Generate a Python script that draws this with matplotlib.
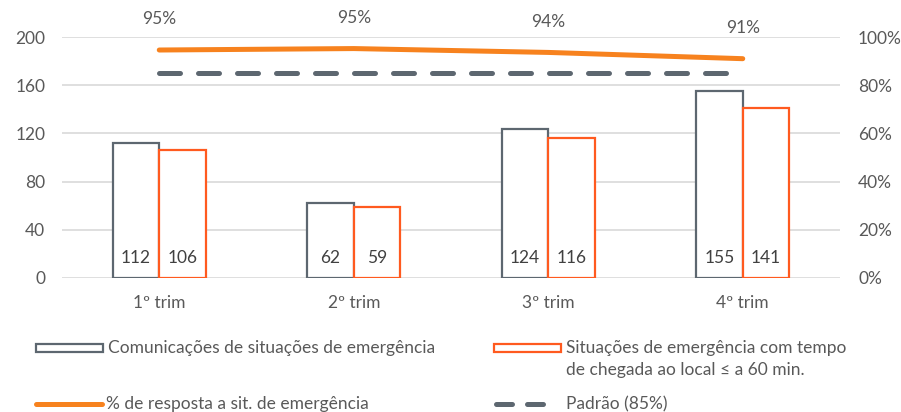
import matplotlib
matplotlib.use("Agg")
import matplotlib.pyplot as plt
import numpy as np
from matplotlib.patches import Rectangle
from matplotlib.lines import Line2D

plt.rcParams['font.family'] = ['Lato', 'DejaVu Sans']

categories = ["1º trim", "2º trim", "3º trim", "4º trim"]
comunicacoes = [112, 62, 124, 155]
situacoes_60 = [106, 59, 116, 141]
pct_resposta = [94.6, 95.2, 93.6, 91.0]
padrao = [85, 85, 85, 85]
left_ticks = [0, 40, 80, 120, 160, 200]
right_ticks = [0, 20, 40, 60, 80, 100]

TXT = "#595959"
GREY = "#5d6770"
ORANGE_BAR = "#ff5a1f"
ORANGE_LINE = "#f7821e"
GRID = "#d9d9d9"
FS = 12.5

fig = plt.figure(figsize=(9.01, 4.12), dpi=100)
ax = fig.add_axes([62/901, 1-278/412, (840-62)/901, (278-37)/412])
ax2 = ax.twinx()

x = np.arange(len(categories))
w = 0.24
ax.bar(x - w/2, comunicacoes, w, facecolor="white", edgecolor=GREY, linewidth=1.6, zorder=3)
ax.bar(x + w/2, situacoes_60, w, facecolor="white", edgecolor=ORANGE_BAR, linewidth=1.6, zorder=3)
for xi, v in zip(x - w/2, comunicacoes):
    ax.text(xi, 17, str(v), ha="center", va="center", fontsize=FS, color="#404040", zorder=4)
for xi, v in zip(x + w/2, situacoes_60):
    ax.text(xi, 17, str(v), ha="center", va="center", fontsize=FS, color="#404040", zorder=4)

ax.set_xlim(-0.5, len(categories) - 0.5)
ax.set_ylim(0, 200)
ax.set_yticks(left_ticks)
ax.set_xticks(x)
ax.set_xticklabels(categories)
ax.grid(axis="y", color=GRID, linewidth=1.2, zorder=0)
ax.set_axisbelow(True)
for s in ax.spines.values():
    s.set_visible(False)
ax.tick_params(axis="both", length=0, labelsize=FS, colors=TXT)
ax.tick_params(axis="y", pad=12)
ax.tick_params(axis="x", pad=12)

ax2.plot(x, padrao, color=GREY, linewidth=3.6, dashes=(4.2, 3.6), solid_capstyle="round",
         dash_capstyle="round", zorder=3)
ax2.plot(x, pct_resposta, color=ORANGE_LINE, linewidth=3.6, solid_capstyle="round", zorder=4)
for xi, v in zip(x, pct_resposta):
    ax2.annotate(f"{v:.0f}%", (xi, v), xytext=(0, 22), textcoords="offset points",
                 ha="center", va="center", fontsize=FS, color=TXT, annotation_clip=False)
ax2.set_ylim(0, 100)
ax2.set_yticks(right_ticks)
ax2.set_yticklabels([f"{t}%" for t in right_ticks])
for s in ax2.spines.values():
    s.set_visible(False)
ax2.tick_params(axis="y", length=0, labelsize=FS, colors=TXT, pad=13)

# legend (manual layout)
def fx(px):
    return px / 901
def fy(py):
    return 1 - py / 412

fig.add_artist(Rectangle((fx(36), fy(352)), fx(103) - fx(36), fy(344) - fy(352),
                         transform=fig.transFigure, facecolor="white", edgecolor=GREY, linewidth=1.6))
fig.text(fx(108), fy(348), "Comunicações de situações de emergência", ha="left", va="center",
         fontsize=FS, color=TXT)
fig.add_artist(Rectangle((fx(494), fy(352)), fx(561) - fx(494), fy(344) - fy(352),
                         transform=fig.transFigure, facecolor="white", edgecolor=ORANGE_BAR, linewidth=1.6))
fig.text(fx(566), fy(348), "Situações de emergência com tempo", ha="left", va="center",
         fontsize=FS, color=TXT)
fig.text(fx(566), fy(370), "de chegada ao local ≤ a 60 min.", ha="left", va="center",
         fontsize=FS, color=TXT)
fig.add_artist(Line2D([fx(36), fx(102)], [fy(404), fy(404)], transform=fig.transFigure,
                      color=ORANGE_LINE, linewidth=3.6, solid_capstyle="round"))
fig.text(fx(106), fy(404), "% de resposta a sit. de emergência", ha="left", va="center",
         fontsize=FS, color=TXT)
fig.add_artist(Line2D([fx(496), fx(557)], [fy(404), fy(404)], transform=fig.transFigure,
                      color=GREY, linewidth=3.6, dashes=(3.2, 3.0), dash_capstyle="round"))
fig.text(fx(566), fy(404), "Padrão (85%)", ha="left", va="center", fontsize=FS, color=TXT)

fig.savefig("out.png", dpi=100)
